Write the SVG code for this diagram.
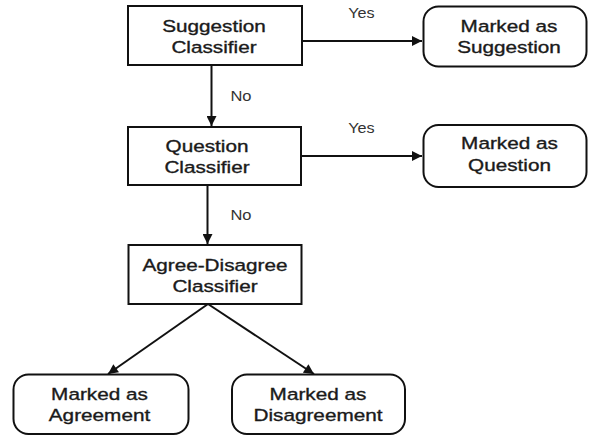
<svg xmlns="http://www.w3.org/2000/svg" width="589" height="436" viewBox="0 0 589 436">
<style>
  .box { fill: #fff; stroke: #111; stroke-width: 2; }
  .t { font-family: "Liberation Sans", Arial, sans-serif; font-size: 17px; fill: #1a1a1a; stroke: #1a1a1a; stroke-width: 0.35; text-anchor: middle; }
  .lbl { font-family: "Liberation Sans", Arial, sans-serif; font-size: 15px; fill: #333; text-anchor: middle; }
  .edge { fill: none; stroke: #111; stroke-width: 2; }
</style>
<defs>
  <marker id="arr" viewBox="0 0 10 10" refX="10" refY="5" markerWidth="5.5" markerHeight="5" markerUnits="strokeWidth" orient="auto">
    <path d="M0,0 L10,5 L0,10 z" fill="#111"/>
  </marker>
</defs>
<rect width="589" height="436" fill="#fff"/>
<g id="connectors">
  <line class="edge" x1="302" y1="41" x2="422" y2="41" marker-end="url(#arr)"/>
  <line class="edge" x1="211.5" y1="65" x2="211.5" y2="126" marker-end="url(#arr)"/>
  <line class="edge" x1="301" y1="156" x2="422" y2="156" marker-end="url(#arr)"/>
  <line class="edge" x1="207.5" y1="185" x2="207.5" y2="244" marker-end="url(#arr)"/>
  <line class="edge" x1="208" y1="304" x2="108" y2="374" marker-end="url(#arr)"/>
  <line class="edge" x1="208" y1="304" x2="314" y2="374" marker-end="url(#arr)"/>
  <text class="lbl" transform="translate(361.5,0) scale(1.08,1)" x="0" y="18">Yes</text>
  <text class="lbl" transform="translate(241,0) scale(1.1,1)" x="0" y="101">No</text>
  <text class="lbl" transform="translate(361.5,0) scale(1.08,1)" x="0" y="133">Yes</text>
  <text class="lbl" transform="translate(241,0) scale(1.1,1)" x="0" y="220">No</text>
</g>
<g id="suggestion-classifier">
  <rect class="box" x="128" y="6" width="174" height="59"/>
  <text class="t" transform="translate(214,0) scale(1.22,1)"><tspan x="0" y="32">Suggestion</tspan><tspan x="0" y="53">Classifier</tspan></text>
</g>
<g id="marked-suggestion">
  <rect class="box" x="423.5" y="6.5" width="163" height="60" rx="15"/>
  <text class="t" transform="translate(509,0) scale(1.22,1)"><tspan x="0" y="32">Marked as</tspan><tspan x="0" y="53">Suggestion</tspan></text>
</g>
<g id="question-classifier">
  <rect class="box" x="128" y="127" width="173" height="58"/>
  <text class="t" transform="translate(207,0) scale(1.22,1)"><tspan x="0" y="152">Question</tspan><tspan x="0" y="173">Classifier</tspan></text>
</g>
<g id="marked-question">
  <rect class="box" x="423.5" y="125" width="163" height="62" rx="15"/>
  <text class="t" transform="translate(509.5,0) scale(1.22,1)"><tspan x="0" y="149">Marked as</tspan><tspan x="0" y="171">Question</tspan></text>
</g>
<g id="agree-disagree-classifier">
  <rect class="box" x="128.5" y="245" width="173" height="59"/>
  <text class="t" transform="translate(215,0) scale(1.22,1)"><tspan x="0" y="271">Agree-Disagree</tspan><tspan x="0" y="292">Classifier</tspan></text>
</g>
<g id="marked-agreement">
  <rect class="box" x="13.5" y="374.5" width="175" height="59.5" rx="15"/>
  <text class="t" transform="translate(99.5,0) scale(1.22,1)"><tspan x="0" y="400">Marked as</tspan><tspan x="0" y="421.5">Agreement</tspan></text>
</g>
<g id="marked-disagreement">
  <rect class="box" x="232" y="374.5" width="173" height="59.5" rx="15"/>
  <text class="t" transform="translate(318,0) scale(1.22,1)"><tspan x="0" y="400">Marked as</tspan><tspan x="0" y="421.5">Disagreement</tspan></text>
</g>
</svg>
